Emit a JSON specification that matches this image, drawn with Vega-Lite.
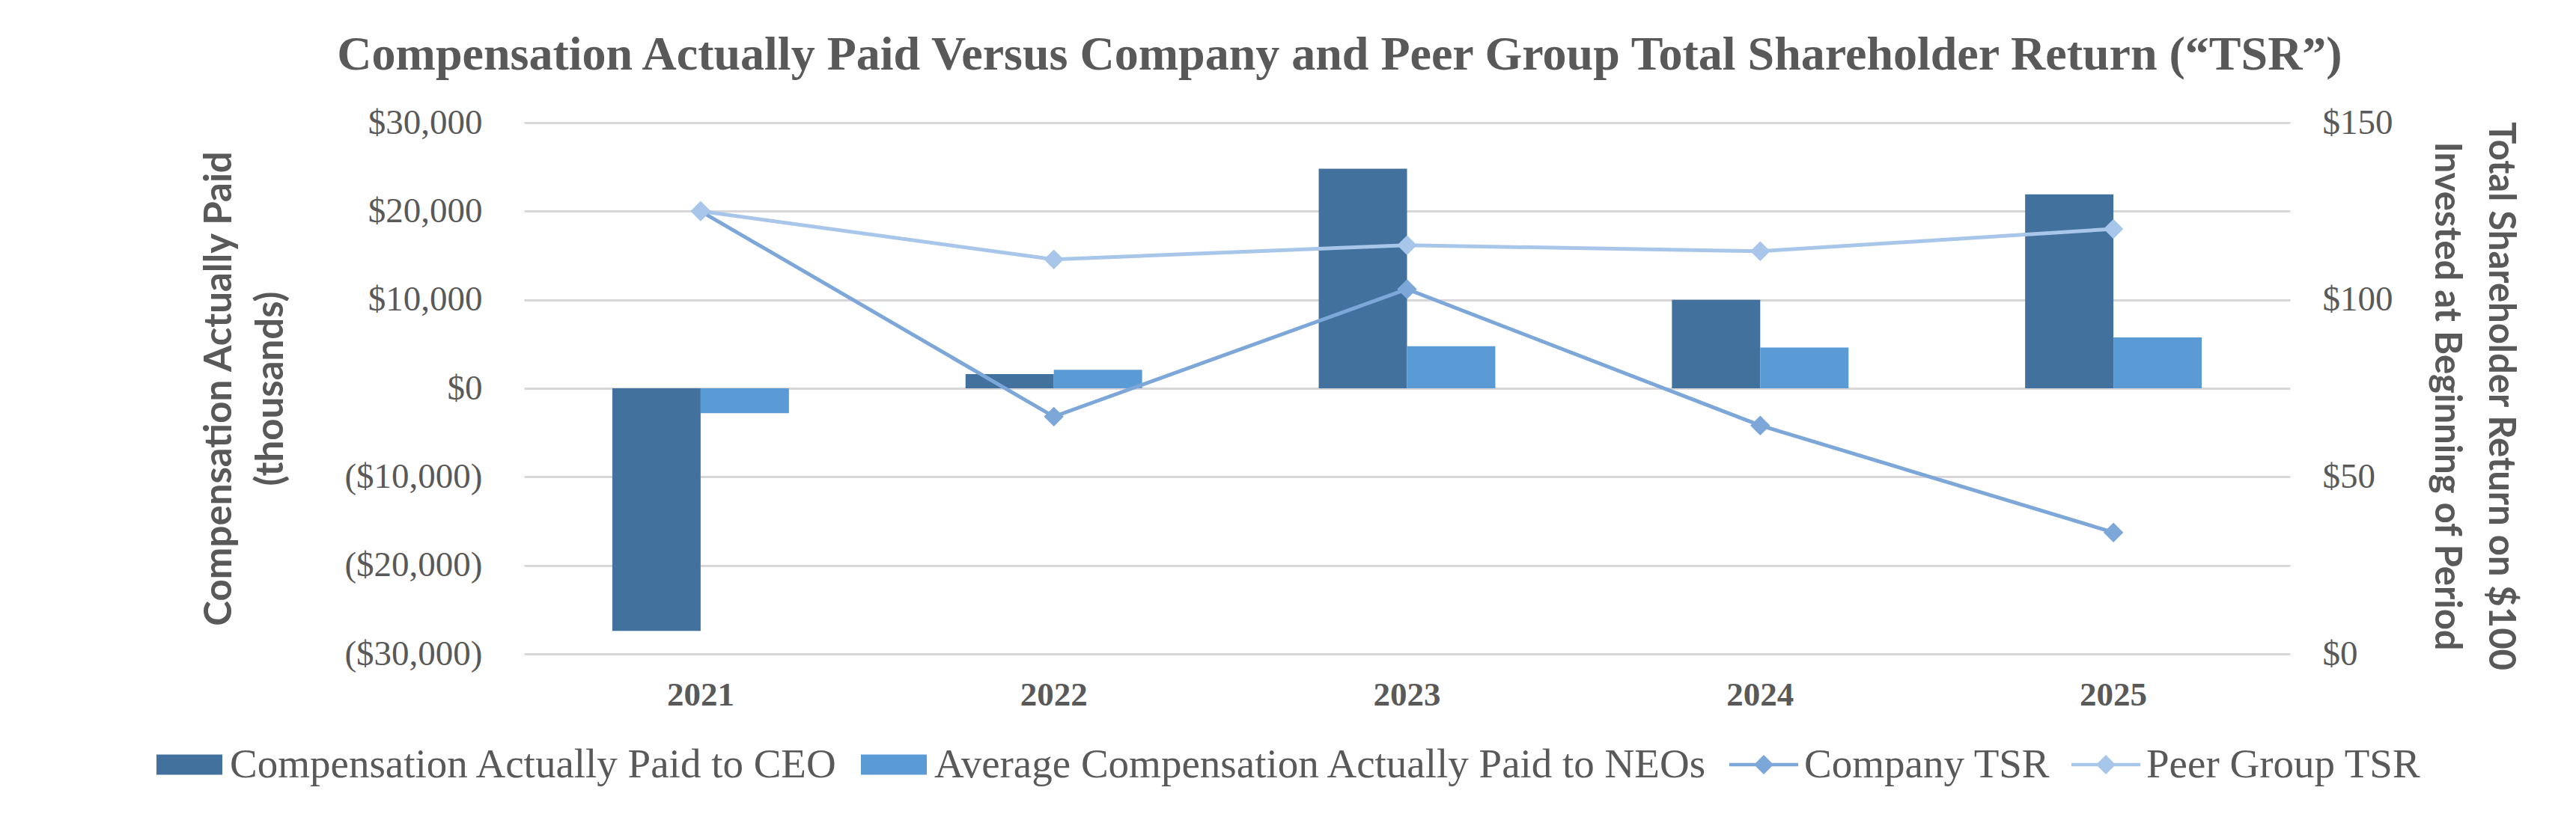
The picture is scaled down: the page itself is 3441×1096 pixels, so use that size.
{
  "$schema": "https://vega.github.io/schema/vega-lite/v6.json",
  "width": 2359,
  "height": 710,
  "autosize": {"type": "none"},
  "padding": {"left": 700, "top": 164, "right": 382, "bottom": 222},
  "background": "white",
  "config": {"view": {"stroke": null}},
  "title": {
    "text": "Compensation Actually Paid Versus Company and Peer Group Total Shareholder Return (“TSR”)",
    "font": "Liberation Serif",
    "fontSize": 64,
    "fontWeight": "bold",
    "color": "#595959",
    "anchor": "middle",
    "dx": -90,
    "dy": 62,
    "offset": 45,
    "baseline": "alphabetic"
  },
  "datasets": {
    "comp": [
      {"year": "2021", "series": "Compensation Actually Paid to CEO", "value": -27400},
      {"year": "2021", "series": "Average Compensation Actually Paid to NEOs", "value": -2800},
      {"year": "2022", "series": "Compensation Actually Paid to CEO", "value": 1600},
      {"year": "2022", "series": "Average Compensation Actually Paid to NEOs", "value": 2100},
      {"year": "2023", "series": "Compensation Actually Paid to CEO", "value": 24800},
      {"year": "2023", "series": "Average Compensation Actually Paid to NEOs", "value": 4750},
      {"year": "2024", "series": "Compensation Actually Paid to CEO", "value": 10000},
      {"year": "2024", "series": "Average Compensation Actually Paid to NEOs", "value": 4600},
      {"year": "2025", "series": "Compensation Actually Paid to CEO", "value": 21900},
      {"year": "2025", "series": "Average Compensation Actually Paid to NEOs", "value": 5750}
    ],
    "tsr": [
      {"year": "2021", "series": "Company TSR", "tsr": 125},
      {"year": "2022", "series": "Company TSR", "tsr": 67},
      {"year": "2023", "series": "Company TSR", "tsr": 103},
      {"year": "2024", "series": "Company TSR", "tsr": 64.5},
      {"year": "2025", "series": "Company TSR", "tsr": 34.3},
      {"year": "2021", "series": "Peer Group TSR", "tsr": 125},
      {"year": "2022", "series": "Peer Group TSR", "tsr": 111.4},
      {"year": "2023", "series": "Peer Group TSR", "tsr": 115.4},
      {"year": "2024", "series": "Peer Group TSR", "tsr": 113.7},
      {"year": "2025", "series": "Peer Group TSR", "tsr": 120}
    ]
  },
  "layer": [
    {
      "data": {"name": "comp"},
      "mark": {"type": "bar"},
      "encoding": {
        "x": {
          "field": "year",
          "type": "ordinal",
          "scale": {"paddingInner": 0, "paddingOuter": 0},
          "axis": {
            "title": null,
            "labelAngle": 0,
            "labelFont": "Liberation Serif",
            "labelFontWeight": "bold",
            "labelFontSize": 45,
            "labelColor": "#595959",
            "labelPadding": 32,
            "ticks": false,
            "domain": false
          }
        },
        "xOffset": {
          "field": "series",
          "scale": {
            "domain": ["Compensation Actually Paid to CEO", "Average Compensation Actually Paid to NEOs"],
            "paddingInner": 0,
            "paddingOuter": 1.107
          }
        },
        "y": {
          "field": "value",
          "type": "quantitative",
          "scale": {"domain": [-30000, 30000], "nice": false},
          "axis": {
            "orient": "left",
            "values": [-30000, -20000, -10000, 0, 10000, 20000, 30000],
            "labelExpr": "datum.value < 0 ? '($' + format(-datum.value, ',') + ')' : '$' + format(datum.value, ',')",
            "labelFont": "Liberation Serif",
            "labelFontSize": 47,
            "labelColor": "#595959",
            "labelPadding": 56,
            "labelLimit": 500,
            "ticks": false,
            "domain": false,
            "grid": true,
            "gridColor": "#D9D6D9",
            "gridWidth": 3,
            "title": ["Compensation Actually Paid", "(thousands)"],
            "titleFont": "Lato",
            "titleFontSize": 51,
            "titleFontWeight": "bold",
            "titleColor": "#595959",
            "titleAngle": -90,
            "titleX": -407,
            "titleY": 355,
            "titleAlign": "center",
            "titleBaseline": "middle",
            "titleLineHeight": 69
          }
        },
        "color": {
          "field": "series",
          "type": "nominal",
          "scale": {
            "domain": ["Compensation Actually Paid to CEO", "Average Compensation Actually Paid to NEOs", "Company TSR", "Peer Group TSR"],
            "range": ["#41719C", "#5B9BD5", "#7DA7D9", "#A8C6EA"]
          },
          "legend": {
            "orient": "none",
            "legendX": -493,
            "legendY": 812,
            "direction": "horizontal",
            "title": null,
            "labelFont": "Liberation Serif",
            "labelFontSize": 55,
            "labelColor": "#595959",
            "labelLimit": 3000,
            "symbolSize": 8464,
            "labelOffset": 8,
            "columnPadding": 28,
            "padding": 0,
            "encode": {
              "symbols": {
                "update": {
                  "shape": {"signal": "indexof(['Compensation Actually Paid to CEO','Average Compensation Actually Paid to NEOs'], datum.value) >= 0 ? 'M-0.957,-0.293H0.957V0.293H-0.957Z' : 'M-1,-0.048H1V0.048H-1Z M0,-0.283L0.283,0L0,0.283L-0.283,0Z'"},
                  "fill": {"signal": "datum.value == 'Compensation Actually Paid to CEO' ? '#41719C' : datum.value == 'Average Compensation Actually Paid to NEOs' ? '#5B9BD5' : datum.value == 'Company TSR' ? '#7DA7D9' : '#A8C6EA'"},
                  "stroke": {"value": "transparent"},
                  "strokeWidth": {"value": 0},
                  "opacity": {"value": 1},
                  "fillOpacity": {"value": 1}
                }
              }
            }
          }
        }
      }
    },
    {
      "data": {"name": "tsr"},
      "mark": {
        "type": "line",
        "strokeWidth": 5,
        "point": {"shape": "diamond", "size": 700, "filled": true, "opacity": 1}
      },
      "encoding": {
        "x": {"field": "year", "type": "ordinal"},
        "y": {
          "field": "tsr",
          "type": "quantitative",
          "scale": {"domain": [0, 150], "nice": false},
          "axis": {
            "orient": "right",
            "values": [0, 50, 100, 150],
            "labelExpr": "'$' + datum.value",
            "labelFont": "Liberation Serif",
            "labelFontSize": 47,
            "labelColor": "#595959",
            "labelPadding": 43,
            "ticks": false,
            "domain": false,
            "grid": false,
            "title": ["Total Shareholder Return on $100", "Invested at Beginning of Period"],
            "titleFont": "Lato",
            "titleFontSize": 49,
            "titleFontWeight": "bold",
            "titleColor": "#595959",
            "titleAngle": 90,
            "titleX": 280,
            "titleY": 365,
            "titleAlign": "center",
            "titleBaseline": "middle",
            "titleLineHeight": 72
          }
        },
        "color": {"field": "series", "type": "nominal"}
      }
    }
  ],
  "resolve": {"scale": {"y": "independent"}}
}
